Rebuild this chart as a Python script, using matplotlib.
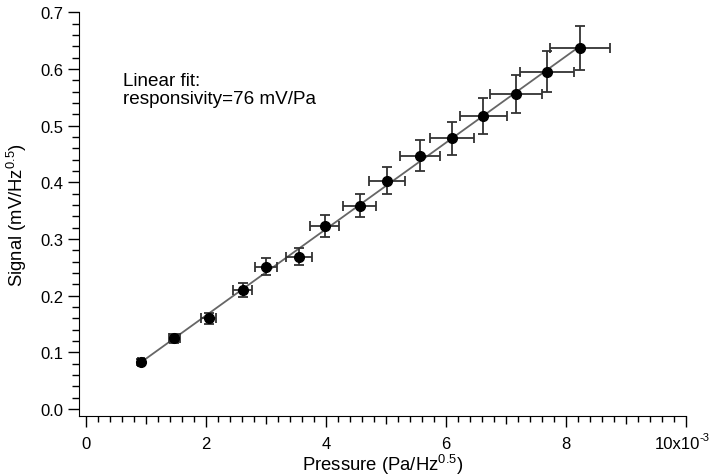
import numpy as np
import matplotlib
matplotlib.use("Agg")
import matplotlib.pyplot as plt
from matplotlib.ticker import FixedLocator, MultipleLocator

plt.rcParams['font.family'] = ['Liberation Sans', 'DejaVu Sans']
plt.rcParams['mathtext.fontset'] = 'custom'
plt.rcParams['mathtext.rm'] = 'Liberation Sans'
plt.rcParams['mathtext.it'] = 'Liberation Sans:italic'

# pressure (x1e-3 Pa/Hz^0.5) and signal (mV/Hz^0.5)
pressure = [0.91, 1.47, 2.05, 2.61, 3.00, 3.555, 3.98, 4.56, 5.02, 5.57, 6.10, 6.62, 7.17, 7.68, 8.23]
signal = [0.083, 0.125, 0.160, 0.210, 0.251, 0.269, 0.323, 0.359, 0.403, 0.447, 0.478, 0.517, 0.556, 0.595, 0.637]
pressure_err = [0.05, 0.09, 0.125, 0.16, 0.19, 0.22, 0.245, 0.27, 0.30, 0.33, 0.37, 0.39, 0.43, 0.455, 0.50]
signal_err = [0.005, 0.008, 0.010, 0.013, 0.015, 0.015, 0.019, 0.021, 0.024, 0.027, 0.029, 0.031, 0.033, 0.036, 0.038]

x_major = [0, 2, 4, 6, 8]
x_labels = ['0', '2', '4', '6', '8']
y_major = [0.0, 0.1, 0.2, 0.3, 0.4, 0.5, 0.6, 0.7]

fig = plt.figure(figsize=(7.14, 4.77), dpi=100)
ax = fig.add_axes([0.1106, 0.1264, 0.8502, 0.8457])

# linear fit
p = np.polyfit(pressure, signal, 1)
xf = np.array([min(pressure), max(pressure)])
ax.plot(xf, np.polyval(p, xf), color='#666666', lw=1.3, zorder=2)

ax.errorbar(pressure, signal, xerr=pressure_err, yerr=signal_err, fmt='o',
            color='black', ms=7, ecolor='#333333', elinewidth=1.3,
            capsize=3.6, capthick=1.3, zorder=3)

ax.text(0.0725, 0.851, 'Linear fit:\nresponsivity=76 mV/Pa',
        transform=ax.transAxes, fontsize=13.6, va='top', ha='left',
        linespacing=1.02)

ax.set_xlim(-0.117, 10)
ax.set_ylim(-0.0118, 0.7)

# major ticks at every integer, label only the even ones
ax.xaxis.set_major_locator(FixedLocator(range(0, 11)))
ax.set_xticklabels([x_labels[x_major.index(i)] if i in x_major else '' for i in range(11)])
ax.xaxis.set_minor_locator(FixedLocator([i * 0.2 for i in range(51) if i % 5]))
ax.yaxis.set_major_locator(FixedLocator(y_major))
ax.set_yticklabels([f'{v:.1f}' for v in y_major])
ax.yaxis.set_minor_locator(MultipleLocator(0.02))

ax.tick_params(which='major', direction='out', length=8, width=1, labelsize=12)
ax.tick_params(axis='x', which='major', pad=6.5)
ax.tick_params(axis='y', which='major', pad=3.4)
ax.tick_params(axis='x', which='minor', direction='out', length=4, width=1)
ax.tick_params(axis='y', which='minor', direction='out', length=5, width=1)
for i, t in enumerate(ax.xaxis.get_major_ticks()):
    if i % 2:
        t.tick1line.set_markersize(6)

# last x tick label with its exponent
ax.annotate('10x10', xy=(10, 0), xycoords=('data', 'axes fraction'),
            xytext=(10, -23.3), textcoords='offset points',
            ha='right', va='baseline', fontsize=12)
ax.annotate('-3', xy=(10, 0), xycoords=('data', 'axes fraction'),
            xytext=(10, -17.6), textcoords='offset points',
            ha='left', va='baseline', fontsize=8)

for s in ['top', 'right']:
    ax.spines[s].set_visible(False)

ax.set_xlabel(r'Pressure (Pa/Hz$^{\mathrm{0.5}}$)', fontsize=13.3, va='baseline')
ax.xaxis.set_label_coords(0.5, -0.1346)
ax.set_ylabel(r'Signal (mV/Hz$^{\mathrm{0.5}}$)', fontsize=13.3, va='baseline')
ax.yaxis.set_label_coords(-0.093, 0.5)

fig.savefig('out.png', dpi=100)
